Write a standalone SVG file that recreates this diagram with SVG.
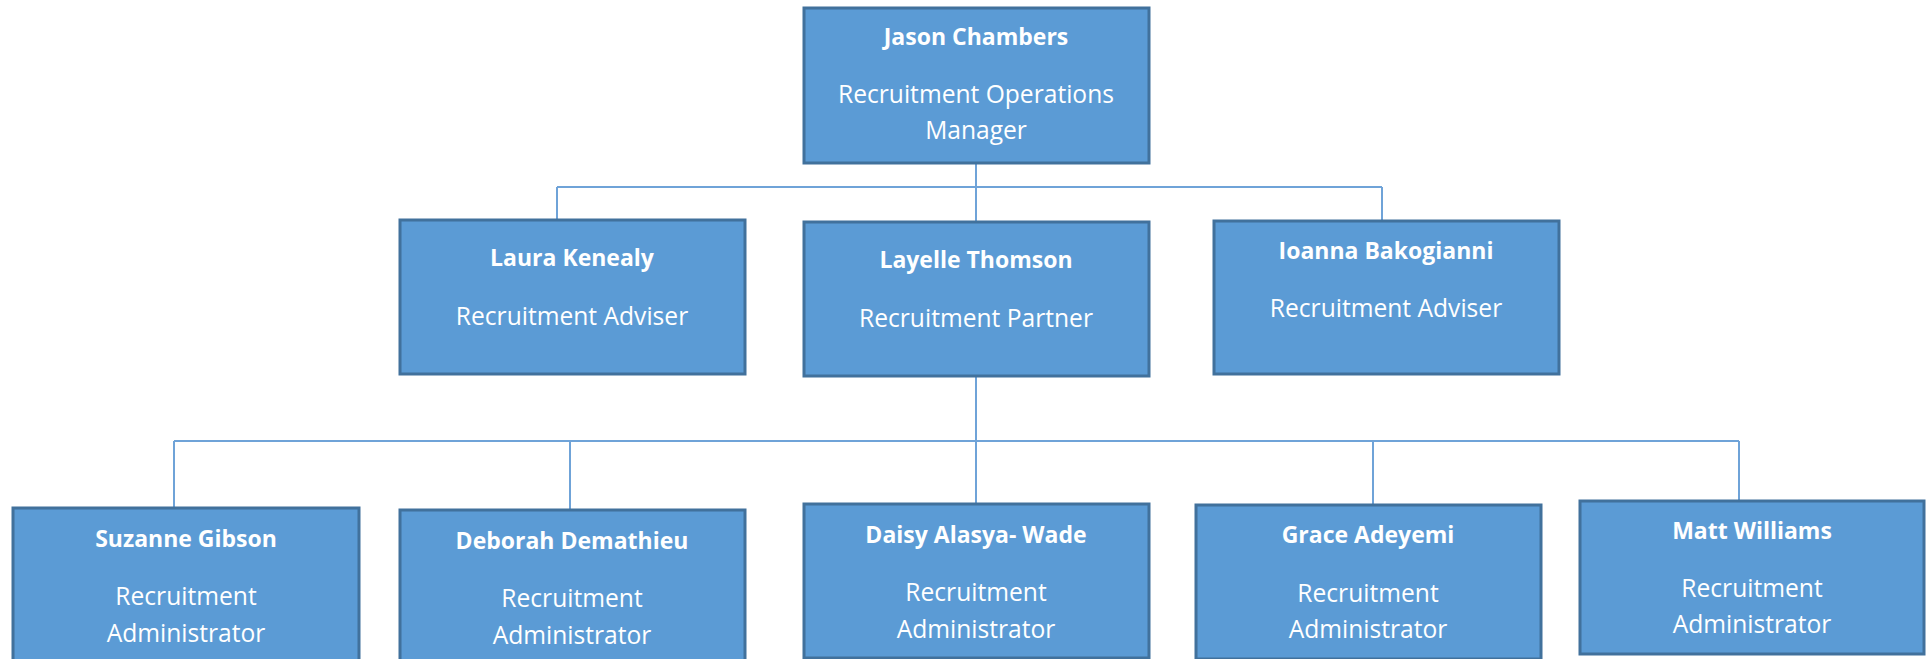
<svg xmlns="http://www.w3.org/2000/svg" width="1926" height="659" viewBox="0 0 1926 659">
<style>
.box{fill:#5B9BD5;stroke:#41719C;stroke-width:3}
.nm{font-family:"Open Sans","Liberation Sans",sans-serif;font-weight:bold;font-size:23px;fill:#FFFFFF;text-anchor:middle}
.rl{font-family:"Open Sans","Liberation Sans",sans-serif;font-size:24.6px;fill:#FFFFFF;text-anchor:middle}
.cn{stroke:#6FA3D8;stroke-width:2;fill:none}
</style>
<rect width="1926" height="659" fill="#FFFFFF"/>
<g id="connectors">
<path class="cn" d="M976 163V187M557 187H1382M557 187V220M976 187V222M1382 187V221"/>
<path class="cn" d="M976 376V441M174 441H1739M174 441V508M570 441V510M976 441V504M1373 441V505M1739 441V500"/>
</g>
<g id="jason">
<rect class="box" x="804" y="8" width="345" height="155"/>
<text class="nm" x="976" y="45">Jason Chambers</text>
<text class="rl" x="976" y="103">Recruitment Operations</text>
<text class="rl" x="976" y="139">Manager</text>
</g>
<g id="laura">
<rect class="box" x="400" y="220" width="345" height="154"/>
<text class="nm" x="572" y="266">Laura Kenealy</text>
<text class="rl" x="572" y="325">Recruitment Adviser</text>
</g>
<g id="layelle">
<rect class="box" x="804" y="222" width="345" height="154"/>
<text class="nm" x="976" y="268">Layelle Thomson</text>
<text class="rl" x="976" y="327">Recruitment Partner</text>
</g>
<g id="ioanna">
<rect class="box" x="1214" y="221" width="345" height="153"/>
<text class="nm" x="1386" y="259">Ioanna Bakogianni</text>
<text class="rl" x="1386" y="317">Recruitment Adviser</text>
</g>
<g id="suzanne">
<rect class="box" x="13" y="508" width="346" height="156"/>
<text class="nm" x="186" y="547">Suzanne Gibson</text>
<text class="rl" x="186" y="605">Recruitment</text>
<text class="rl" x="186" y="642">Administrator</text>
</g>
<g id="deborah">
<rect class="box" x="400" y="510" width="345" height="156"/>
<text class="nm" x="572" y="549">Deborah Demathieu</text>
<text class="rl" x="572" y="607">Recruitment</text>
<text class="rl" x="572" y="644">Administrator</text>
</g>
<g id="daisy">
<rect class="box" x="804" y="504" width="345" height="154"/>
<text class="nm" x="976" y="543">Daisy Alasya- Wade</text>
<text class="rl" x="976" y="601">Recruitment</text>
<text class="rl" x="976" y="638">Administrator</text>
</g>
<g id="grace">
<rect class="box" x="1196" y="505" width="345" height="154"/>
<text class="nm" x="1368" y="543">Grace Adeyemi</text>
<text class="rl" x="1368" y="602">Recruitment</text>
<text class="rl" x="1368" y="638">Administrator</text>
</g>
<g id="matt">
<rect class="box" x="1580" y="501" width="344" height="153"/>
<text class="nm" x="1752" y="539">Matt Williams</text>
<text class="rl" x="1752" y="597">Recruitment</text>
<text class="rl" x="1752" y="633">Administrator</text>
</g>
</svg>
